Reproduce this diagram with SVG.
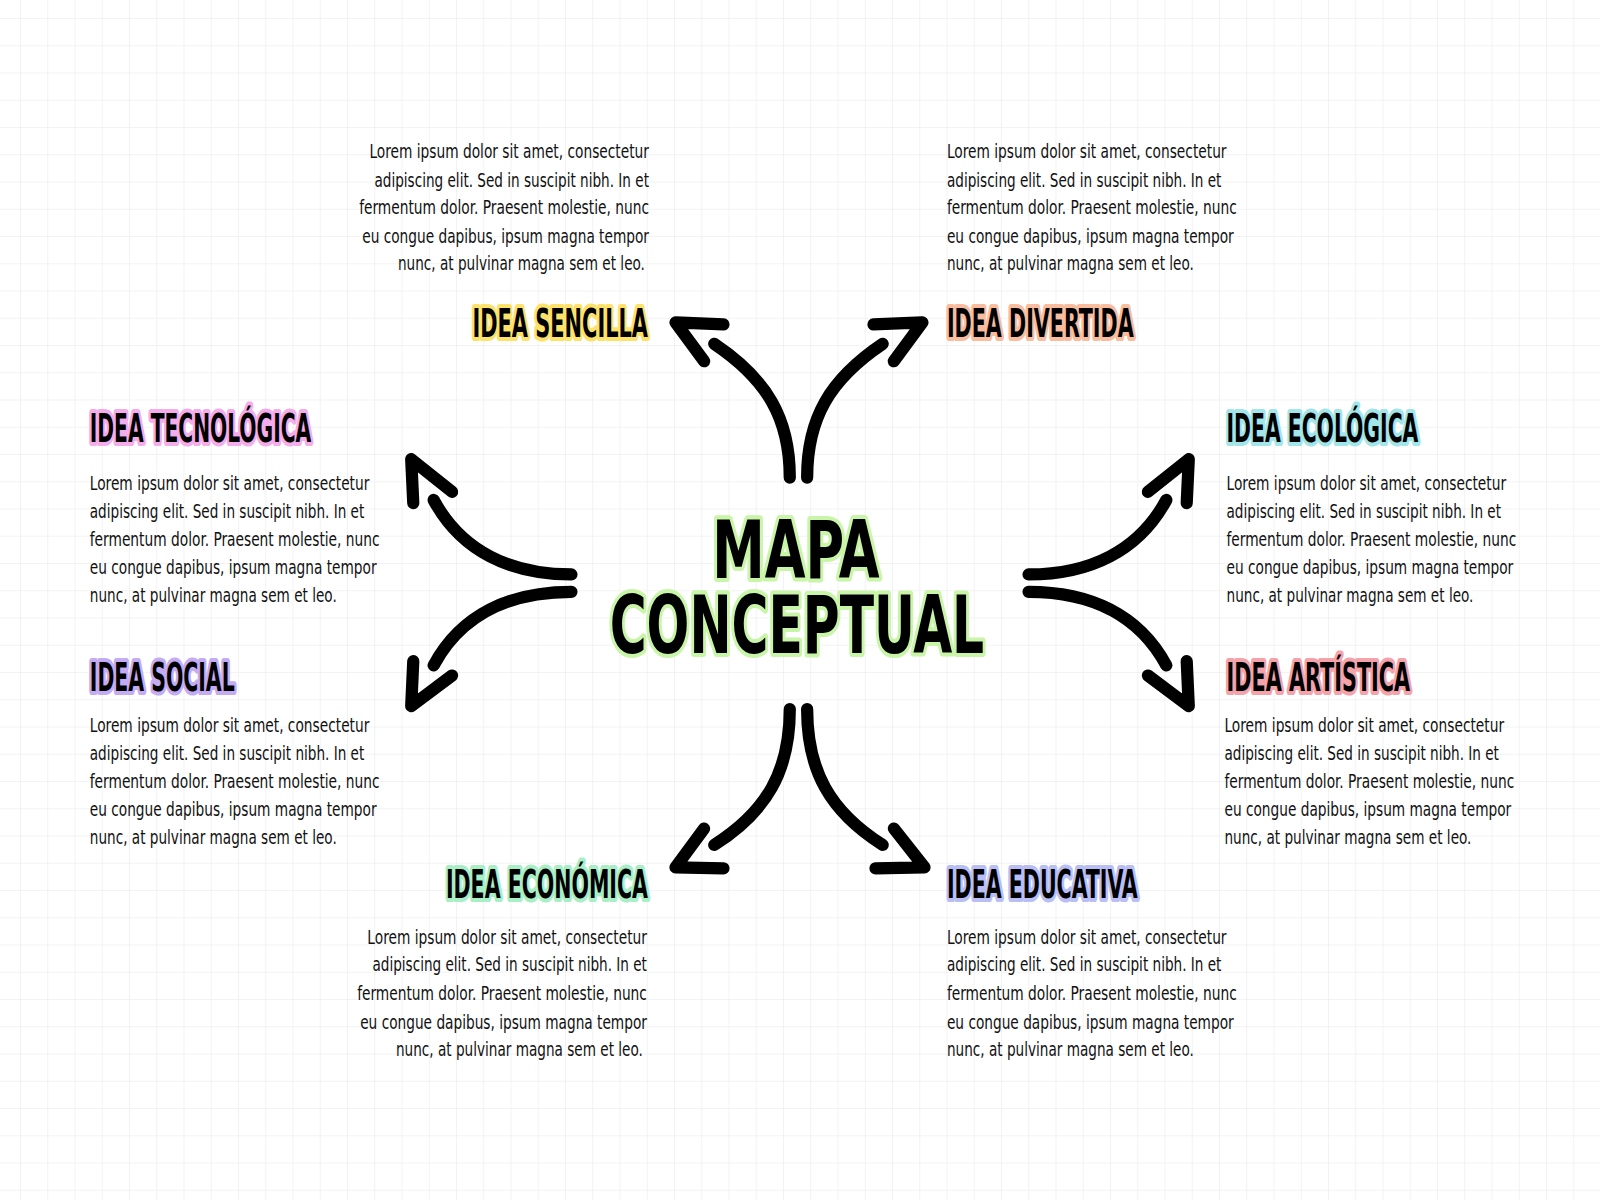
<svg xmlns="http://www.w3.org/2000/svg" width="1600" height="1200" viewBox="0 0 1600 1200">
<defs>
<pattern id="grid" width="27.25" height="27.25" patternUnits="userSpaceOnUse" x="20" y="18">
<path d="M0,0 H27.25 M0,0 V27.25" fill="none" stroke="#efefef" stroke-width="1.6"/>
</pattern>
<style>
.t{font-family:"Liberation Sans Narrow","DejaVu Sans Condensed","Liberation Sans",sans-serif;font-weight:bold;fill:#000;paint-order:stroke;stroke-linejoin:round}
.title{font-size:78px;stroke:#c8f5a8;stroke-width:8}
.lab{font-size:38px;stroke-width:8}
.p{font-family:"Liberation Sans Narrow","DejaVu Sans Condensed","Liberation Sans",sans-serif;font-size:18.5px;fill:#111}
.arr{fill:none;stroke:#000;stroke-width:12;stroke-linecap:round;stroke-linejoin:round}
</style>
</defs>
<rect width="1600" height="1200" fill="#fff"/>
<rect width="1600" height="1200" fill="url(#grid)"/>
<g transform="scale(1.0204)">
<g id="connectors" class="arr">
<path d="M774,468 C774,410 752,372 700,337"/><path d="M709,318 L662,316 L690,354"/>
<path d="M791,468 C791,410 813,372 865,337"/><path d="M856,318 L904,316 L876,354"/>
<path d="M560,563 C500,563 452,540 425,490"/><path d="M443,482 L403,450 L405,493"/>
<path d="M560,580 C500,580 452,602 425,652"/><path d="M443,662 L403,692 L405,648"/>
<path d="M1008,563 C1068,563 1116,540 1143,490"/><path d="M1125,482 L1165,450 L1163,493"/>
<path d="M1008,580 C1068,580 1116,602 1143,652"/><path d="M1125,662 L1165,692 L1163,648"/>
<path d="M774,695 C774,755 752,795 700,828"/><path d="M709,851 L662,850 L690,812"/>
<path d="M791,695 C791,755 813,795 865,828"/><path d="M858,851 L906,850 L876,812"/>
</g>
<g id="center">
<text class="t title" x="780" y="566" text-anchor="middle" textLength="164" lengthAdjust="spacingAndGlyphs">MAPA</text>
<text class="t title" x="781" y="640" text-anchor="middle" textLength="367" lengthAdjust="spacingAndGlyphs">CONCEPTUAL</text>
</g>
<g id="sencilla">
<text class="t lab" x="635" y="330" text-anchor="end" textLength="172" lengthAdjust="spacingAndGlyphs" style="stroke:#fde26a">IDEA SENCILLA</text>
<text class="p" text-anchor="end"><tspan x="636" y="155" textLength="274" lengthAdjust="spacingAndGlyphs">Lorem ipsum dolor sit amet, consectetur</tspan><tspan x="636" y="183" textLength="269" lengthAdjust="spacingAndGlyphs">adipiscing elit. Sed in suscipit nibh. In et</tspan><tspan x="636" y="210" textLength="284" lengthAdjust="spacingAndGlyphs">fermentum dolor. Praesent molestie, nunc</tspan><tspan x="636" y="238" textLength="281" lengthAdjust="spacingAndGlyphs">eu congue dapibus, ipsum magna tempor</tspan><tspan x="632" y="265" textLength="242" lengthAdjust="spacingAndGlyphs">nunc, at pulvinar magna sem et leo.</tspan></text>
</g>
<g id="divertida">
<text class="t lab" x="928" y="330" textLength="183" lengthAdjust="spacingAndGlyphs" style="stroke:#f9bd9d">IDEA DIVERTIDA</text>
<text class="p"><tspan x="928" y="155" textLength="274" lengthAdjust="spacingAndGlyphs">Lorem ipsum dolor sit amet, consectetur</tspan><tspan x="928" y="183" textLength="269" lengthAdjust="spacingAndGlyphs">adipiscing elit. Sed in suscipit nibh. In et</tspan><tspan x="928" y="210" textLength="284" lengthAdjust="spacingAndGlyphs">fermentum dolor. Praesent molestie, nunc</tspan><tspan x="928" y="238" textLength="281" lengthAdjust="spacingAndGlyphs">eu congue dapibus, ipsum magna tempor</tspan><tspan x="928" y="265" textLength="242" lengthAdjust="spacingAndGlyphs">nunc, at pulvinar magna sem et leo.</tspan></text>
</g>
<g id="tecnologica">
<text class="t lab" x="88" y="433" textLength="217" lengthAdjust="spacingAndGlyphs" style="stroke:#f5acea">IDEA TECNOLÓGICA</text>
<text class="p"><tspan x="88" y="480" textLength="274" lengthAdjust="spacingAndGlyphs">Lorem ipsum dolor sit amet, consectetur</tspan><tspan x="88" y="508" textLength="269" lengthAdjust="spacingAndGlyphs">adipiscing elit. Sed in suscipit nibh. In et</tspan><tspan x="88" y="535" textLength="284" lengthAdjust="spacingAndGlyphs">fermentum dolor. Praesent molestie, nunc</tspan><tspan x="88" y="563" textLength="281" lengthAdjust="spacingAndGlyphs">eu congue dapibus, ipsum magna tempor</tspan><tspan x="88" y="590" textLength="242" lengthAdjust="spacingAndGlyphs">nunc, at pulvinar magna sem et leo.</tspan></text>
</g>
<g id="ecologica">
<text class="t lab" x="1202" y="433" textLength="188" lengthAdjust="spacingAndGlyphs" style="stroke:#a2e6ea">IDEA ECOLÓGICA</text>
<text class="p"><tspan x="1202" y="480" textLength="274" lengthAdjust="spacingAndGlyphs">Lorem ipsum dolor sit amet, consectetur</tspan><tspan x="1202" y="508" textLength="269" lengthAdjust="spacingAndGlyphs">adipiscing elit. Sed in suscipit nibh. In et</tspan><tspan x="1202" y="535" textLength="284" lengthAdjust="spacingAndGlyphs">fermentum dolor. Praesent molestie, nunc</tspan><tspan x="1202" y="563" textLength="281" lengthAdjust="spacingAndGlyphs">eu congue dapibus, ipsum magna tempor</tspan><tspan x="1202" y="590" textLength="242" lengthAdjust="spacingAndGlyphs">nunc, at pulvinar magna sem et leo.</tspan></text>
</g>
<g id="social">
<text class="t lab" x="88" y="677" textLength="142" lengthAdjust="spacingAndGlyphs" style="stroke:#c4acf5">IDEA SOCIAL</text>
<text class="p"><tspan x="88" y="717" textLength="274" lengthAdjust="spacingAndGlyphs">Lorem ipsum dolor sit amet, consectetur</tspan><tspan x="88" y="745" textLength="269" lengthAdjust="spacingAndGlyphs">adipiscing elit. Sed in suscipit nibh. In et</tspan><tspan x="88" y="772" textLength="284" lengthAdjust="spacingAndGlyphs">fermentum dolor. Praesent molestie, nunc</tspan><tspan x="88" y="800" textLength="281" lengthAdjust="spacingAndGlyphs">eu congue dapibus, ipsum magna tempor</tspan><tspan x="88" y="827" textLength="242" lengthAdjust="spacingAndGlyphs">nunc, at pulvinar magna sem et leo.</tspan></text>
</g>
<g id="artistica">
<text class="t lab" x="1202" y="677" textLength="180" lengthAdjust="spacingAndGlyphs" style="stroke:#f4a3ab">IDEA ARTÍSTICA</text>
<text class="p"><tspan x="1200" y="717" textLength="274" lengthAdjust="spacingAndGlyphs">Lorem ipsum dolor sit amet, consectetur</tspan><tspan x="1200" y="745" textLength="269" lengthAdjust="spacingAndGlyphs">adipiscing elit. Sed in suscipit nibh. In et</tspan><tspan x="1200" y="772" textLength="284" lengthAdjust="spacingAndGlyphs">fermentum dolor. Praesent molestie, nunc</tspan><tspan x="1200" y="800" textLength="281" lengthAdjust="spacingAndGlyphs">eu congue dapibus, ipsum magna tempor</tspan><tspan x="1200" y="827" textLength="242" lengthAdjust="spacingAndGlyphs">nunc, at pulvinar magna sem et leo.</tspan></text>
</g>
<g id="economica">
<text class="t lab" x="635" y="880" text-anchor="end" textLength="198" lengthAdjust="spacingAndGlyphs" style="stroke:#a8efc6">IDEA ECONÓMICA</text>
<text class="p" text-anchor="end"><tspan x="634" y="925" textLength="274" lengthAdjust="spacingAndGlyphs">Lorem ipsum dolor sit amet, consectetur</tspan><tspan x="634" y="952" textLength="269" lengthAdjust="spacingAndGlyphs">adipiscing elit. Sed in suscipit nibh. In et</tspan><tspan x="634" y="980" textLength="284" lengthAdjust="spacingAndGlyphs">fermentum dolor. Praesent molestie, nunc</tspan><tspan x="634" y="1008" textLength="281" lengthAdjust="spacingAndGlyphs">eu congue dapibus, ipsum magna tempor</tspan><tspan x="630" y="1035" textLength="242" lengthAdjust="spacingAndGlyphs">nunc, at pulvinar magna sem et leo.</tspan></text>
</g>
<g id="educativa">
<text class="t lab" x="928" y="880" textLength="187" lengthAdjust="spacingAndGlyphs" style="stroke:#b9bff5">IDEA EDUCATIVA</text>
<text class="p"><tspan x="928" y="925" textLength="274" lengthAdjust="spacingAndGlyphs">Lorem ipsum dolor sit amet, consectetur</tspan><tspan x="928" y="952" textLength="269" lengthAdjust="spacingAndGlyphs">adipiscing elit. Sed in suscipit nibh. In et</tspan><tspan x="928" y="980" textLength="284" lengthAdjust="spacingAndGlyphs">fermentum dolor. Praesent molestie, nunc</tspan><tspan x="928" y="1008" textLength="281" lengthAdjust="spacingAndGlyphs">eu congue dapibus, ipsum magna tempor</tspan><tspan x="928" y="1035" textLength="242" lengthAdjust="spacingAndGlyphs">nunc, at pulvinar magna sem et leo.</tspan></text>
</g>
</g>
</svg>
